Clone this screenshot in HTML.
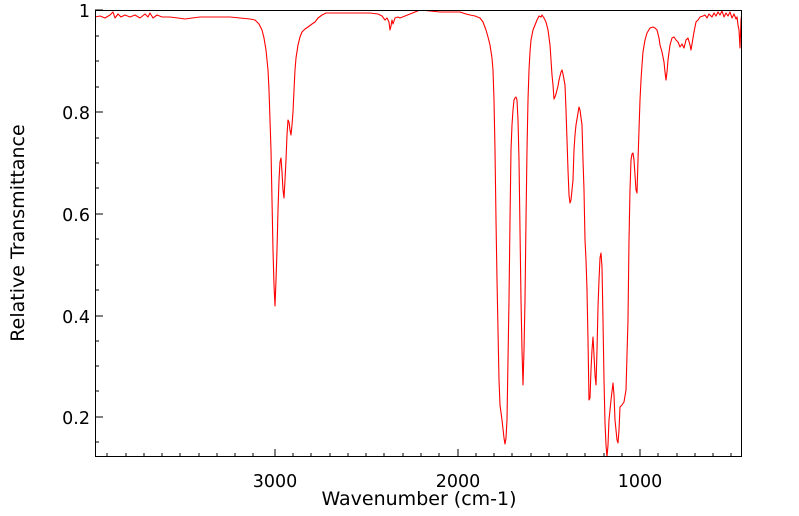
<!DOCTYPE html>
<html><head><style>
body{margin:0;background:#fff;}
svg{display:block;font-family:"DejaVu Sans","Liberation Sans",sans-serif;}
</style></head><body>
<svg width="799" height="516" viewBox="0 0 799 516" xmlns="http://www.w3.org/2000/svg">
<rect width="799" height="516" fill="#fff"/>
<defs><clipPath id="c"><rect x="95" y="10" width="647" height="447"/></clipPath></defs>
<polyline clip-path="url(#c)" fill="none" stroke="#ff0000" stroke-width="1.1" stroke-linejoin="round" points="
95,17 100,16 105,18 110,15 113,12 115,18 118,14 121,17 125,15 130,17 135,15 140,18 145,14 148,17 150,13 153,18 157,15 162,17 170,17 178,18 185,19 192,18 200,17 210,17 220,17 230,17 240,18 250,19 255,20 259,24 262,30 264,38 266,50 268,70 269,90 270,120 271,150 272,200 273,250 274,285 275,306 276,280 277,250 278,210 279,180 280,162 281,158 282,172 283,190 284,198 285,180 286,160 287,135 288,120 289,122 290,130 291,135 292,125 293,112 294,90 295,70 296,58 298,45 300,37 302,32 305,29 308,27 312,24 315,22 318,18 322,15 326,13 330,13 340,13 350,13 360,13 370,13 378,14 382,16 385,20 387,18 389,22 390,30 391,26 392,20 393,24 395,18 398,17 400,18 405,16 410,14 415,12 420,10 430,11 440,12 450,12 460,12 466,14 470,15 475,16 480,18 483,22 486,30 488,37 490,45 492,58 493,70 494,100 495,150 496,220 497,280 498,330 499,380 500,405 502,420 504,438 505,444 506,438 507,420 508,360 509,300 510,220 511,150 512,125 513,110 514,100 515,98 516,97 517,100 518,120 519,160 520,230 521,300 522,350 523,385 524,350 525,300 526,220 527,150 528,100 529,70 530,52 531,40 533,30 535,25 537,20 539,16 541,17 542,15 544,18 546,22 548,30 550,45 551,60 552,75 553,85 554,99 555,97 556,94 557,90 558,86 559,80 561,72 562,70 563,74 565,85 566,110 567,140 568,170 569,195 570,203 571,200 572,190 573,180 574,150 575,135 576,125 578,113 579,107 580,110 582,125 583,160 584,190 585,240 586,260 587,290 588,340 589,400 590,398 591,370 592,350 593,337 594,355 595,375 596,385 597,350 598,307 599,280 600,258 601,253 602,267 603,320 604,380 605,423 606,445 607,457 608,445 609,420 611,400 613,383 614,395 615,420 617,440 618,443 619,430 620,407 622,405 624,402 626,390 627,355 628,320 629,240 630,190 631,160 632,154 633,153 634,160 635,175 636,190 637,193 638,160 639,130 640,100 641,80 642,65 643,52 645,40 647,33 650,28 653,27 655,28 657,30 659,38 660,45 662,52 664,62 665,72 666,80 667,72 668,60 670,45 672,38 674,37 676,40 678,42 680,47 682,44 684,48 686,40 688,38 690,45 691,50 692,44 694,32 696,22 698,20 700,17 703,16 705,15 707,18 709,14 712,17 714,13 716,16 718,12 720,15 722,11 724,17 726,13 728,16 730,12 732,18 734,14 736,19 737,17 738,25 739,30 740,48 741,20 742,12"/>
<rect x="95.5" y="10.5" width="646" height="446" fill="none" stroke="#000" stroke-width="1"/>
<g stroke="#000" stroke-width="1">
<path d="M107,457v-4M126,457v-4M144,457v-4M162,457v-4M180,457v-4M199,457v-4M217,457v-4M235,457v-4M253,457v-4M275,457v-8M293,457v-4M311,457v-4M330,457v-4M348,457v-4M366,457v-4M384,457v-4M403,457v-4M421,457v-4M439,457v-4M458,457v-8M476,457v-4M494,457v-4M512,457v-4M531,457v-4M549,457v-4M567,457v-4M585,457v-4M604,457v-4M622,457v-4M640,457v-8M658,457v-4M677,457v-4M695,457v-4M713,457v-4M731,457v-4"/>
<path d="M95,442h4M95,417h8M95,391h4M95,366h4M95,341h4M95,316h8M95,290h4M95,265h4M95,239h4M95,214h8M95,188h4M95,163h4M95,138h4M95,112h8M95,87h4M95,61h4M95,36h4M95,10h8"/>
</g>
<g font-size="17.5" fill="#000" text-anchor="end">
<text x="90" y="17">1</text>
<text x="90" y="119">0.8</text>
<text x="90" y="221">0.6</text>
<text x="90" y="323">0.4</text>
<text x="90" y="424">0.2</text>
</g>
<g font-size="17.5" fill="#000" text-anchor="middle">
<text x="275" y="487">3000</text>
<text x="458" y="487">2000</text>
<text x="640" y="487">1000</text>
</g>
<g font-size="19" fill="#000" text-anchor="middle">
<text x="419" y="505">Wavenumber (cm-1)</text>
<text transform="translate(24,233) rotate(-90)">Relative Transmittance</text>
</g>
</svg>
</body></html>
